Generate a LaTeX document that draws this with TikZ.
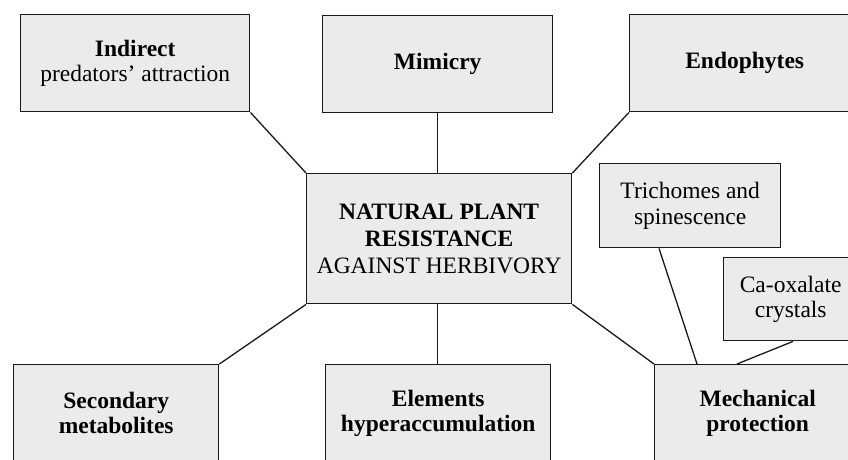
\documentclass[tikz,border=0pt]{standalone}
\usepackage{fontspec}
\setmainfont{Liberation Serif}
\begin{document}
\begin{tikzpicture}[x=1pt,y=-1pt,
  box/.style={draw=black!90, fill=black!8, line width=1.4pt, anchor=north west,
    inner sep=0pt, align=center, font=\fontsize{23.5}{25.5}\selectfont},
  link/.style={draw=black!90, line width=1.3pt}]
\useasboundingbox (0,0) rectangle (848,459);
\clip (0,0) rectangle (848,459);
% top row
\node[box, minimum width=229pt, minimum height=97pt] (ind) at (20,14) {\textbf{Indirect}\\predators’ attraction};
\node[box, minimum width=230pt, minimum height=97pt] (mim) at (322,15) {\textbf{Mimicry}};
\node[box, minimum width=230pt, minimum height=97pt] (endo) at (629,14) {\textbf{Endophytes}};
% centre
\node[box, minimum width=265pt, minimum height=130pt, font=\fontsize{23.5}{27}\selectfont] (nat) at (306,173) {\textbf{NATURAL PLANT}\\\textbf{RESISTANCE}\\AGAINST HERBIVORY};
% side boxes
\node[box, minimum width=181pt, minimum height=84pt] (tri) at (599,163) {Trichomes and\\spinescence};
\node[box, minimum width=134pt, minimum height=83pt] (ca) at (723,257) {Ca-oxalate\\crystals};
% bottom row
\node[box, minimum width=205pt, minimum height=97pt] (sec) at (13,364) {\textbf{Secondary}\\\textbf{metabolites}};
\node[box, minimum width=225pt, minimum height=97pt] (ele) at (325,364) {\textbf{Elements}\\\textbf{hyperaccumulation}};
\node[box, minimum width=206pt, minimum height=97pt] (mech) at (654,364) {\textbf{Mechanical}\\\textbf{protection}};
% connectors
\draw[link] (ind.south east) -- (nat.north west);
\draw[link] (mim.south) -- (mim.south |- nat.north);
\draw[link] (endo.south west) -- (nat.north east);
\draw[link] (nat.south west) -- (sec.north east);
\draw[link] (nat.south -| mim.south) -- (ele.north -| mim.south);
\draw[link] (nat.south east) -- (mech.north west);
\draw[link] ([xshift=60pt]tri.south west) -- ([xshift=43pt]mech.north west);
\draw[link] ([xshift=70pt]ca.south west) -- ([xshift=83pt]mech.north west);
\end{tikzpicture}
\end{document}
